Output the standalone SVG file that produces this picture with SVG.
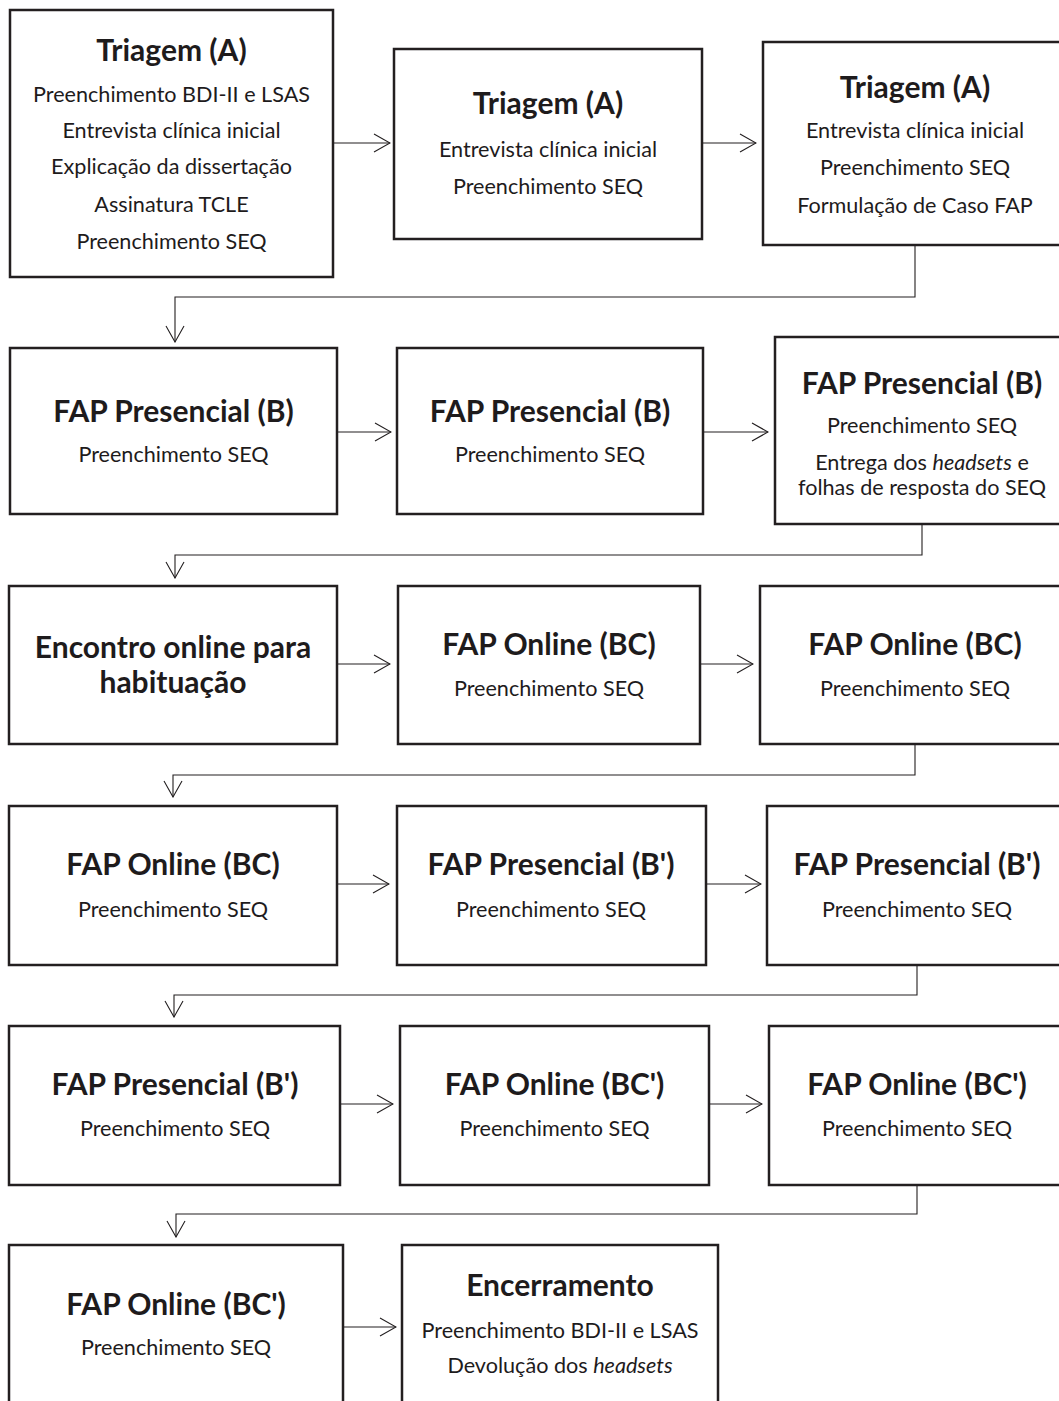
<svg xmlns="http://www.w3.org/2000/svg" width="1059" height="1401" viewBox="0 0 1059 1401">
<defs>
<marker id="ah" markerWidth="18" markerHeight="22" refX="17" refY="11" orient="auto" markerUnits="userSpaceOnUse">
<path d="M1,2 L17,11 L1,20" fill="none" stroke="#231f20" stroke-width="1.1"/>
</marker>
<style>
.box{fill:#fff;stroke:#231f20;stroke-width:2.5}
.t{font-family:Lato,"Liberation Sans",sans-serif;font-weight:bold;font-size:30px;fill:#1e1b1c;text-anchor:middle}
.b{font-family:Lato,"Liberation Sans",sans-serif;font-size:21.6px;fill:#1e1b1c;text-anchor:middle}
.c{fill:none;stroke:#231f20;stroke-width:1.1}
</style>
</defs>
<rect width="1059" height="1401" fill="#fff"/>
<g id="connectors">
<path class="c" d="M333,143 H390" marker-end="url(#ah)"/>
<path class="c" d="M702,143 H756" marker-end="url(#ah)"/>
<path class="c" d="M915,245 V297 H175 V342" marker-end="url(#ah)"/>
<path class="c" d="M337,432 H391" marker-end="url(#ah)"/>
<path class="c" d="M703,432 H768" marker-end="url(#ah)"/>
<path class="c" d="M922,524 V555 H175 V578" marker-end="url(#ah)"/>
<path class="c" d="M337,664 H390" marker-end="url(#ah)"/>
<path class="c" d="M700,664 H753" marker-end="url(#ah)"/>
<path class="c" d="M915,744 V775 H173 V797" marker-end="url(#ah)"/>
<path class="c" d="M337,884 H389" marker-end="url(#ah)"/>
<path class="c" d="M706,884 H761" marker-end="url(#ah)"/>
<path class="c" d="M917,965 V995 H174 V1017" marker-end="url(#ah)"/>
<path class="c" d="M340,1104 H393" marker-end="url(#ah)"/>
<path class="c" d="M709,1104 H762" marker-end="url(#ah)"/>
<path class="c" d="M917,1185 V1214 H176 V1237" marker-end="url(#ah)"/>
<path class="c" d="M343,1327 H396" marker-end="url(#ah)"/>
</g>
<g id="n1"><rect class="box" x="10" y="10" width="323" height="267"/>
<text class="t" x="171.5" y="61">Triagem (A)</text>
<text class="b" x="171.5" y="102">Preenchimento BDI-II e LSAS</text>
<text class="b" x="171.5" y="138">Entrevista clínica inicial</text>
<text class="b" x="171.5" y="174">Explicação da dissertação</text>
<text class="b" x="171.5" y="212">Assinatura TCLE</text>
<text class="b" x="171.5" y="249">Preenchimento SEQ</text></g>
<g id="n2"><rect class="box" x="394" y="49" width="308" height="190"/>
<text class="t" x="548" y="114">Triagem (A)</text>
<text class="b" x="548" y="157">Entrevista clínica inicial</text>
<text class="b" x="548" y="194">Preenchimento SEQ</text></g>
<g id="n3"><rect class="box" x="763" y="42" width="304" height="203"/>
<text class="t" x="915" y="98">Triagem (A)</text>
<text class="b" x="915" y="138">Entrevista clínica inicial</text>
<text class="b" x="915" y="175">Preenchimento SEQ</text>
<text class="b" x="915" y="213">Formulação de Caso FAP</text></g>
<g id="n4"><rect class="box" x="10" y="348" width="327" height="166"/>
<text class="t" x="173.5" y="422">FAP Presencial (B)</text>
<text class="b" x="173.5" y="462">Preenchimento SEQ</text></g>
<g id="n5"><rect class="box" x="397" y="348" width="306" height="166"/>
<text class="t" x="550" y="422">FAP Presencial (B)</text>
<text class="b" x="550" y="462">Preenchimento SEQ</text></g>
<g id="n6"><rect class="box" x="775" y="337" width="294" height="187"/>
<text class="t" x="922" y="394">FAP Presencial (B)</text>
<text class="b" x="922" y="433">Preenchimento SEQ</text>
<text class="b" x="922" y="470">Entrega dos <tspan font-style="italic">headsets</tspan> e</text>
<text class="b" x="922" y="495">folhas de resposta do SEQ</text></g>
<g id="n7"><rect class="box" x="9" y="586" width="328" height="158"/>
<text class="t" x="173" y="658">Encontro online para</text>
<text class="t" x="173" y="693">habituação</text></g>
<g id="n8"><rect class="box" x="398" y="586" width="302" height="158"/>
<text class="t" x="549" y="655">FAP Online (BC)</text>
<text class="b" x="549" y="696">Preenchimento SEQ</text></g>
<g id="n9"><rect class="box" x="760" y="586" width="310" height="158"/>
<text class="t" x="915" y="655">FAP Online (BC)</text>
<text class="b" x="915" y="696">Preenchimento SEQ</text></g>
<g id="n10"><rect class="box" x="9" y="806" width="328" height="159"/>
<text class="t" x="173" y="875">FAP Online (BC)</text>
<text class="b" x="173" y="917">Preenchimento SEQ</text></g>
<g id="n11"><rect class="box" x="397" y="806" width="309" height="159"/>
<text class="t" x="551" y="875">FAP Presencial (B')</text>
<text class="b" x="551" y="917">Preenchimento SEQ</text></g>
<g id="n12"><rect class="box" x="767" y="806" width="300" height="159"/>
<text class="t" x="917" y="875">FAP Presencial (B')</text>
<text class="b" x="917" y="917">Preenchimento SEQ</text></g>
<g id="n13"><rect class="box" x="9" y="1026" width="331" height="159"/>
<text class="t" x="175" y="1095">FAP Presencial (B')</text>
<text class="b" x="175" y="1136">Preenchimento SEQ</text></g>
<g id="n14"><rect class="box" x="400" y="1026" width="309" height="159"/>
<text class="t" x="554.5" y="1095">FAP Online (BC')</text>
<text class="b" x="554.5" y="1136">Preenchimento SEQ</text></g>
<g id="n15"><rect class="box" x="769" y="1026" width="296" height="159"/>
<text class="t" x="917" y="1095">FAP Online (BC')</text>
<text class="b" x="917" y="1136">Preenchimento SEQ</text></g>
<g id="n16"><rect class="box" x="9" y="1245" width="334" height="170"/>
<text class="t" x="176" y="1315">FAP Online (BC')</text>
<text class="b" x="176" y="1355">Preenchimento SEQ</text></g>
<g id="n17"><rect class="box" x="402" y="1245" width="316" height="170"/>
<text class="t" x="560" y="1296">Encerramento</text>
<text class="b" x="560" y="1338">Preenchimento BDI-II e LSAS</text>
<text class="b" x="560" y="1373">Devolução dos <tspan font-style="italic">headsets</tspan></text></g>
</svg>
